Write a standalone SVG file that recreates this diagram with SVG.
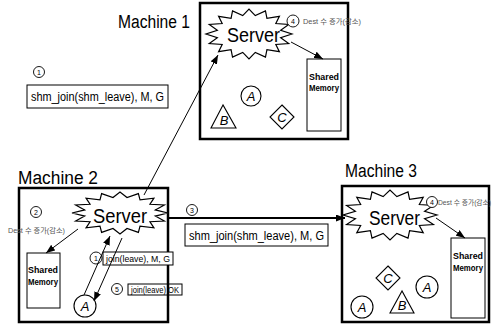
<svg xmlns="http://www.w3.org/2000/svg" xmlns:xlink="http://www.w3.org/1999/xlink" width="492" height="326" viewBox="0 0 492 326">
<style>
text{font-family:"Liberation Sans","Noto Sans CJK KR",sans-serif;fill:#000}
.mach{fill:none;stroke:#000;stroke-width:2.5}
.label{font-size:18px}
.srv{font-size:21px}
.burst{fill:#fff;stroke:#000;stroke-width:1.2}
.shm{fill:#fff;stroke:#000;stroke-width:1}
.shmt{font-size:9px;font-weight:bold}
.msg{fill:#fff;stroke:#000;stroke-width:1}
.msgt{font-size:12px}
.small{font-size:9px}
.num{fill:#fff;stroke:#000;stroke-width:0.9}
.numt{font-size:7px;text-anchor:middle}
.dest{font-size:7px;fill:#555}
.shape{fill:#fff;stroke:#000;stroke-width:1.1}
.st{font-size:13px;font-style:italic;text-anchor:middle}
.con{fill:none;stroke:#000;stroke-width:1}
.thick{fill:none;stroke:#000;stroke-width:2.2}
</style>
<defs>
<path id="burst" vector-effect="non-scaling-stroke" d="M100,0 L73.6,14.6 L92.4,38.3 L62.4,41.7 L70.7,70.7 L41.7,62.4 L38.3,92.4 L14.6,73.6 L0,100 L-14.6,73.6 L-38.3,92.4 L-41.7,62.4 L-70.7,70.7 L-62.4,41.7 L-92.4,38.3 L-73.6,14.6 L-100,0 L-73.6,-14.6 L-92.4,-38.3 L-62.4,-41.7 L-70.7,-70.7 L-41.7,-62.4 L-38.3,-92.4 L-14.6,-73.6 L0,-100 L14.6,-73.6 L38.3,-92.4 L41.7,-62.4 L70.7,-70.7 L62.4,-41.7 L92.4,-38.3 L73.6,-14.6 Z"/>
<marker id="arr" markerUnits="userSpaceOnUse" markerWidth="9" markerHeight="7" refX="9" refY="3.5" orient="auto">
<path d="M0,0 L9,3.5 L0,7 Z" fill="#000"/>
</marker>
</defs>

<!-- Machine boxes and labels -->
<g id="machine1">
<rect class="mach" x="200" y="3" width="148" height="136"/>
<text class="label" x="118" y="28" textLength="72" lengthAdjust="spacingAndGlyphs">Machine 1</text>
</g>
<g id="machine2">
<rect class="mach" x="19" y="188" width="149" height="134"/>
<text class="label" x="18" y="184" textLength="80" lengthAdjust="spacingAndGlyphs">Machine 2</text>
</g>
<g id="machine3">
<rect class="mach" x="342" y="186" width="147" height="136"/>
<text class="label" x="345" y="177" textLength="72" lengthAdjust="spacingAndGlyphs">Machine 3</text>
</g>

<!-- Step 1 message (top left) -->
<g id="msg1">
<circle class="num" cx="39" cy="72" r="5.5"/>
<text class="numt" x="39" y="74.5">1</text>
<rect class="msg" x="27" y="85" width="141" height="23"/>
<text class="msgt" x="31" y="101" textLength="133" lengthAdjust="spacingAndGlyphs">shm_join(shm_leave), M, G</text>
</g>

<!-- Machine 1 contents -->
<g id="m1-server">
<use xlink:href="#burst" class="burst" transform="translate(249,34) scale(0.43,0.25)"/>
<text class="srv" x="227" y="42" textLength="53" lengthAdjust="spacingAndGlyphs">Server</text>
</g>
<g id="m1-step4">
<circle class="num" cx="293" cy="21" r="6"/>
<text class="numt" x="293" y="23.5">4</text>
<text class="dest" x="303" y="24" textLength="58" lengthAdjust="spacingAndGlyphs">Dest 수 증가(감소)</text>
</g>
<g id="m1-shm">
<rect class="shm" x="307" y="59" width="34" height="72"/>
<text class="shmt" x="309" y="80" textLength="30" lengthAdjust="spacingAndGlyphs">Shared</text>
<text class="shmt" x="309" y="91" textLength="30" lengthAdjust="spacingAndGlyphs">Memory</text>
</g>
<g id="m1-a">
<circle class="shape" cx="251" cy="96" r="10"/>
<text class="st" x="251" y="101">A</text>
</g>
<g id="m1-b">
<polygon class="shape" points="223,105 211,128 236,128"/>
<text class="st" x="224" y="125">B</text>
</g>
<g id="m1-c">
<polygon class="shape" points="282,105 294,117 282,129 270,117"/>
<text class="st" x="282" y="122">C</text>
</g>

<!-- Machine 2 contents -->
<g id="m2-server">
<use xlink:href="#burst" class="burst" transform="translate(120,213) scale(0.48,0.21)"/>
<text class="srv" x="93" y="223" textLength="54" lengthAdjust="spacingAndGlyphs">Server</text>
</g>
<g id="m2-step2">
<circle class="num" cx="36" cy="212" r="5.5"/>
<text class="numt" x="36" y="214.5">2</text>
<text class="dest" x="8" y="233" textLength="57" lengthAdjust="spacingAndGlyphs">Dest 수 증가(감소)</text>
</g>
<g id="m2-shm">
<rect class="shm" x="27" y="253" width="33" height="55"/>
<text class="shmt" x="28" y="273" textLength="30" lengthAdjust="spacingAndGlyphs">Shared</text>
<text class="shmt" x="28" y="285" textLength="30" lengthAdjust="spacingAndGlyphs">Memory</text>
</g>
<g id="m2-a">
<circle class="shape" cx="85" cy="306" r="11"/>
<text class="st" x="85" y="311">A</text>
</g>
<g id="m2-join">
<circle class="num" cx="96" cy="258" r="6"/>
<text class="numt" x="96" y="260.5">1</text>
<rect class="msg" x="103" y="252" width="70" height="13"/>
<text class="small" x="106" y="262" textLength="64" lengthAdjust="spacingAndGlyphs">join(leave), M, G</text>
</g>
<g id="m2-ok">
<circle class="num" cx="117" cy="289" r="5.5"/>
<text class="numt" x="117" y="291.5">5</text>
<rect class="msg" x="128" y="284" width="54" height="11" style="fill:none"/>
<text class="small" x="131" y="293" textLength="48" lengthAdjust="spacingAndGlyphs">join(leave) OK</text>
</g>

<!-- Step 3 message -->
<g id="msg3">
<circle class="num" cx="192" cy="210" r="5.5"/>
<text class="numt" x="192" y="212.5">3</text>
<rect class="msg" x="185" y="224" width="143" height="22"/>
<text class="msgt" x="189" y="240" textLength="135" lengthAdjust="spacingAndGlyphs">shm_join(shm_leave), M, G</text>
</g>

<!-- Machine 3 contents -->
<g id="m3-server">
<use xlink:href="#burst" class="burst" transform="translate(390,215) scale(0.47,0.25)"/>
<text class="srv" x="369" y="225" textLength="51" lengthAdjust="spacingAndGlyphs">Server</text>
</g>
<g id="m3-step4">
<circle class="num" cx="432" cy="202" r="5.5"/>
<text class="numt" x="432" y="204.5">4</text>
<text class="dest" x="438" y="205" textLength="53" lengthAdjust="spacingAndGlyphs">Dest 수 증가(감소)</text>
</g>
<g id="m3-shm">
<rect class="shm" x="451" y="238" width="34" height="80"/>
<text class="shmt" x="453" y="259" textLength="30" lengthAdjust="spacingAndGlyphs">Shared</text>
<text class="shmt" x="453" y="271" textLength="30" lengthAdjust="spacingAndGlyphs">Memory</text>
</g>
<g id="m3-c">
<polygon class="shape" points="388,266 400,278 388,290 376,278"/>
<text class="st" x="388" y="283">C</text>
</g>
<g id="m3-a1">
<circle class="shape" cx="362" cy="307" r="11"/>
<text class="st" x="362" y="312">A</text>
</g>
<g id="m3-b">
<polygon class="shape" points="402,291 390,313 414,313"/>
<text class="st" x="402" y="310">B</text>
</g>
<g id="m3-a2">
<circle class="shape" cx="427" cy="287" r="11"/>
<text class="st" x="427" y="292">A</text>
</g>

<!-- Connectors -->
<g id="connectors">
<line class="con" x1="291" y1="42" x2="323" y2="59" marker-end="url(#arr)"/>
<line class="con" x1="144" y1="195" x2="218" y2="55" marker-end="url(#arr)"/>
<line class="thick" x1="167" y1="218" x2="345" y2="218" marker-end="url(#arr)"/>
<line class="con" x1="78" y1="229" x2="46" y2="253" marker-end="url(#arr)"/>
<line class="con" x1="84" y1="295" x2="110" y2="236" marker-end="url(#arr)"/>
<line class="con" x1="122" y1="238" x2="94" y2="301" marker-end="url(#arr)"/>
<line class="con" x1="436" y1="218" x2="465" y2="238" marker-end="url(#arr)"/>
</g>
</svg>
